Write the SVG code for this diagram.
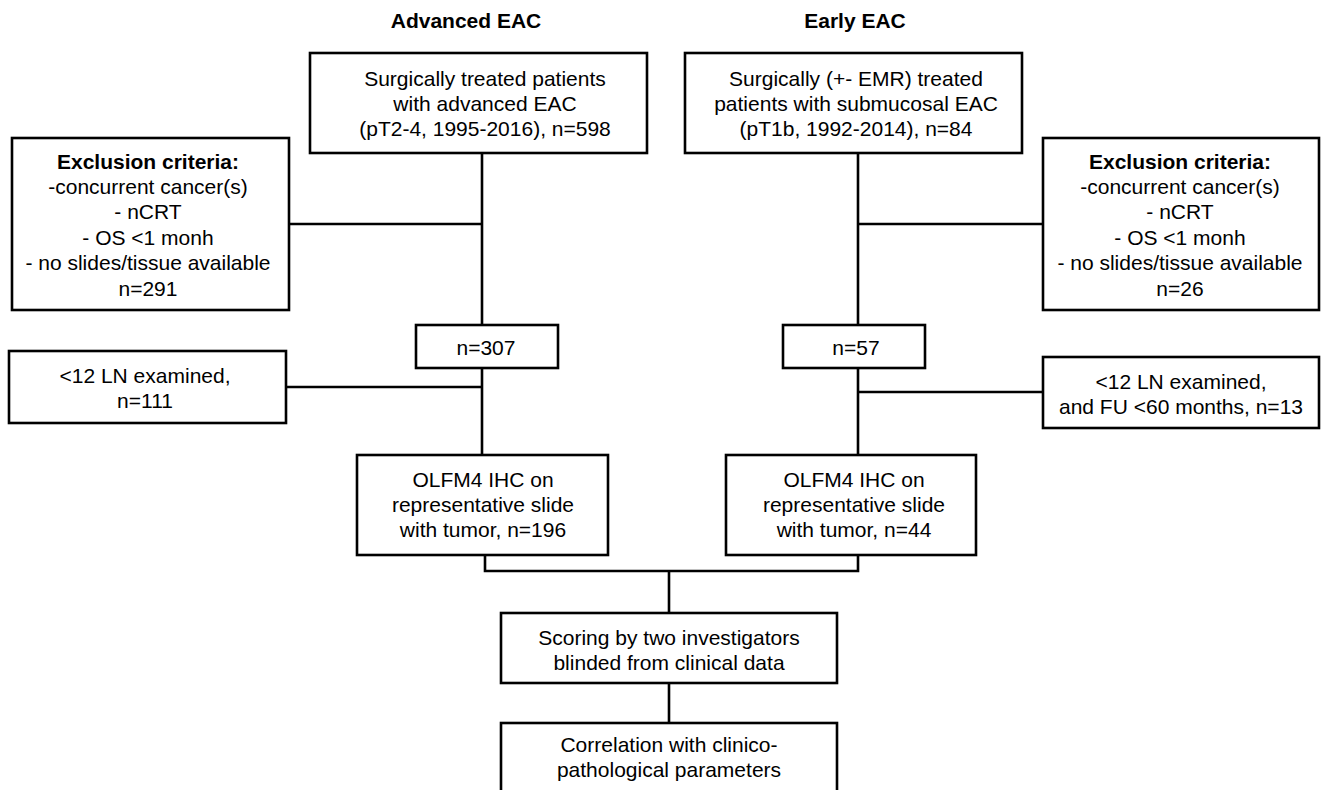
<svg xmlns="http://www.w3.org/2000/svg" width="1323" height="790" viewBox="0 0 1323 790">
<style>
.box{fill:#fff;stroke:#000;stroke-width:2.6}
.ln{fill:none;stroke:#000;stroke-width:2.6}
text{font-family:"Liberation Sans",Arial,sans-serif;font-size:21px;fill:#000;text-anchor:middle}
.b{font-weight:bold}
</style>
<rect width="1323" height="790" fill="#fff"/>
<g id="titles">
<text class="b" x="466" y="28">Advanced EAC</text>
<text class="b" x="855" y="28">Early EAC</text>
</g>
<g id="connectors">
<path class="ln" d="M482 153V325M482 368V455M289 224H482M286 387H482"/>
<path class="ln" d="M858 153V325M858 368V455M858 224H1043M858 392H1043"/>
<path class="ln" d="M485 555V571H858V555M669 571V613M669 683V723"/>
</g>
<g id="advanced">
<rect class="box" x="310" y="53" width="337" height="100"/>
<text x="485" y="86">Surgically treated patients</text>
<text x="485" y="111">with advanced EAC</text>
<text x="485" y="136">(pT2-4, 1995-2016), n=598</text>
</g>
<g id="early">
<rect class="box" x="685" y="53" width="337" height="100"/>
<text x="856" y="86">Surgically (+- EMR) treated</text>
<text x="856" y="111">patients with submucosal EAC</text>
<text x="856" y="136">(pT1b, 1992-2014), n=84</text>
</g>
<g id="excl-left">
<rect class="box" x="12" y="138" width="277" height="172"/>
<text class="b" x="148" y="169">Exclusion criteria:</text>
<text x="148" y="194">-concurrent cancer(s)</text>
<text x="148" y="219">- nCRT</text>
<text x="148" y="245">- OS &lt;1 monh</text>
<text x="148" y="270">- no slides/tissue available</text>
<text x="148" y="296">n=291</text>
</g>
<g id="excl-right">
<rect class="box" x="1043" y="138" width="276" height="172"/>
<text class="b" x="1180" y="169">Exclusion criteria:</text>
<text x="1180" y="194">-concurrent cancer(s)</text>
<text x="1180" y="219">- nCRT</text>
<text x="1180" y="245">- OS &lt;1 monh</text>
<text x="1180" y="270">- no slides/tissue available</text>
<text x="1180" y="296">n=26</text>
</g>
<g id="n307">
<rect class="box" x="416" y="325" width="142" height="43"/>
<text x="486" y="355">n=307</text>
</g>
<g id="n57">
<rect class="box" x="783" y="325" width="142" height="43"/>
<text x="856" y="355">n=57</text>
</g>
<g id="ln-left">
<rect class="box" x="9" y="351" width="277" height="72"/>
<text x="145" y="383">&lt;12 LN examined,</text>
<text x="145" y="408">n=111</text>
</g>
<g id="ln-right">
<rect class="box" x="1043" y="357" width="276" height="71"/>
<text x="1181" y="389">&lt;12 LN examined,</text>
<text x="1181" y="414">and FU &lt;60 months, n=13</text>
</g>
<g id="ihc-left">
<rect class="box" x="357" y="455" width="251" height="100"/>
<text x="483" y="487">OLFM4 IHC on</text>
<text x="483" y="512">representative slide</text>
<text x="483" y="537">with tumor, n=196</text>
</g>
<g id="ihc-right">
<rect class="box" x="726" y="455" width="250" height="100"/>
<text x="854" y="487">OLFM4 IHC on</text>
<text x="854" y="512">representative slide</text>
<text x="854" y="537">with tumor, n=44</text>
</g>
<g id="scoring">
<rect class="box" x="501" y="613" width="336" height="70"/>
<text x="669" y="645">Scoring by two investigators</text>
<text x="669" y="670">blinded from clinical data</text>
</g>
<g id="correlation">
<rect class="box" x="501" y="723" width="336" height="72"/>
<text x="669" y="752">Correlation with clinico-</text>
<text x="669" y="777">pathological parameters</text>
</g>
</svg>
